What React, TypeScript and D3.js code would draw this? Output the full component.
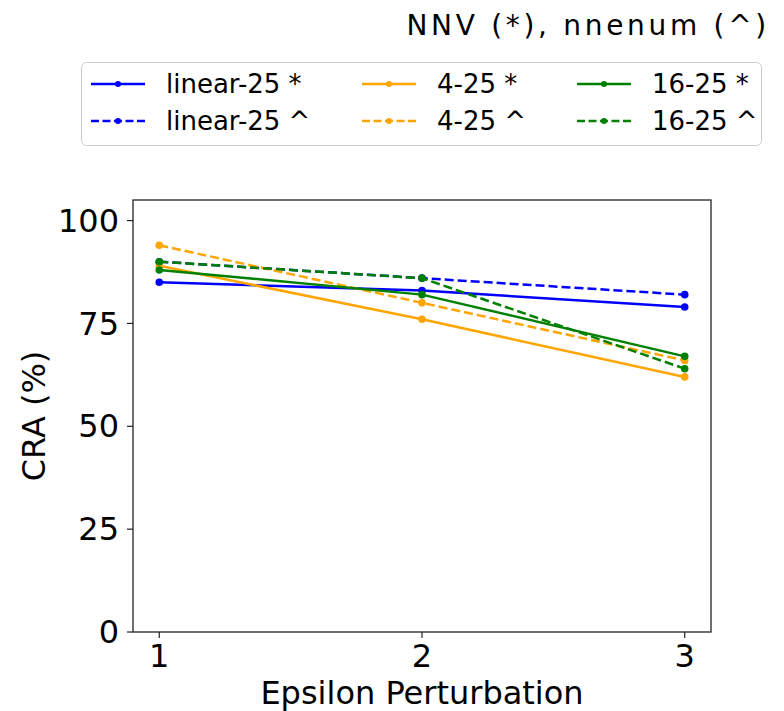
import React from "react";
import * as d3 from "d3";

const epsilons = [1, 2, 3];
const seriesNames = ["linear-25 *", "linear-25 ^", "4-25 *", "4-25 ^", "16-25 *", "16-25 ^"];
const linear25NNV = [85, 83, 79];
const linear25Nnenum = [90, 86, 82];
const m425NNV = [89, 76, 62];
const m425Nnenum = [94, 80, 66];
const m1625NNV = [88, 82, 67];
const m1625Nnenum = [90, 86, 64];
const yTicks = [0, 25, 50, 75, 100];
const legendTitle = "NNV (*), nnenum (^)";

const series = [
  { name: seriesNames[0], values: linear25NNV, color: "blue", dashed: false },
  { name: seriesNames[1], values: linear25Nnenum, color: "blue", dashed: true },
  { name: seriesNames[2], values: m425NNV, color: "orange", dashed: false },
  { name: seriesNames[3], values: m425Nnenum, color: "orange", dashed: true },
  { name: seriesNames[4], values: m1625NNV, color: "green", dashed: false },
  { name: seriesNames[5], values: m1625Nnenum, color: "green", dashed: true },
];

const W = 784, H = 711;
const plot = { left: 133, right: 711, top: 200, bottom: 632 };
const FONT = "DejaVu Sans, sans-serif";

export default function App() {
  const x = d3.scaleLinear().domain([0.9, 3.1]).range([plot.left, plot.right]);
  const y = d3.scaleLinear().domain([0, 105]).range([plot.bottom, plot.top]);
  const line = d3.line<number>().x((_, i) => x(epsilons[i])).y((d) => y(d));

  const colHandle = [91, 362, 577];
  const rowY = [84, 121];

  return (
    <svg width={W} height={H} style={{ position: "absolute", left: 0, top: 0, background: "white" }} fontFamily={FONT}>
      <rect x={0} y={0} width={W} height={H} fill="white" />
      <text x={770} y={35} textAnchor="end" fontSize={28} letterSpacing={3.7} fill="#000">{legendTitle}</text>
      <rect x={81.5} y={62.5} width={680} height={83} rx={5} fill="white" fillOpacity={0.8} stroke="#cccccc" strokeWidth={1} />
      {series.map((s, si) => {
        const col = Math.floor(si / 2);
        const row = si % 2;
        const x0 = colHandle[col];
        const yy = rowY[row];
        return (
          <g key={s.name}>
            <line x1={x0} x2={x0 + 54} y1={yy} y2={yy} stroke={s.color} strokeWidth={2.5} strokeDasharray={s.dashed ? "8,3.5" : undefined} />
            <circle cx={x0 + 27} cy={yy} r={3} fill={s.color} />
            <text x={x0 + 75} y={yy} dy="0.35em" fontSize={26} fill="#000">{s.name}</text>
          </g>
        );
      })}

      {series.map((s) => (
        <g key={s.name}>
          <path d={line(s.values) || ""} fill="none" stroke={s.color} strokeWidth={2.5} strokeDasharray={s.dashed ? "9,4" : undefined} />
          {s.values.map((v, i) => (
            <circle key={i} cx={x(epsilons[i])} cy={y(v)} r={3.8} fill={s.color} />
          ))}
        </g>
      ))}

      <rect x={plot.left} y={plot.top} width={plot.right - plot.left} height={plot.bottom - plot.top} fill="none" stroke="#222" strokeWidth={1.3} />

      {yTicks.map((t) => (
        <g key={t}>
          <line x1={plot.left - 6} x2={plot.left} y1={y(t)} y2={y(t)} stroke="#222" strokeWidth={1.2} />
          <text x={plot.left - 14} y={y(t)} dy="0.35em" textAnchor="end" fontSize={32} fill="#000">{t}</text>
        </g>
      ))}
      {epsilons.map((t) => (
        <g key={t}>
          <line x1={x(t)} x2={x(t)} y1={plot.bottom} y2={plot.bottom + 6} stroke="#222" strokeWidth={1.2} />
          <text x={x(t)} y={plot.bottom + 35} textAnchor="middle" fontSize={32} fill="#000">{t}</text>
        </g>
      ))}
      <text x={(plot.left + plot.right) / 2} y={704} textAnchor="middle" fontSize={32} fill="#000">Epsilon Perturbation</text>
      <text transform={`translate(45, ${(plot.top + plot.bottom) / 2}) rotate(-90)`} textAnchor="middle" fontSize={32} fill="#000">CRA (%)</text>
    </svg>
  );
}
